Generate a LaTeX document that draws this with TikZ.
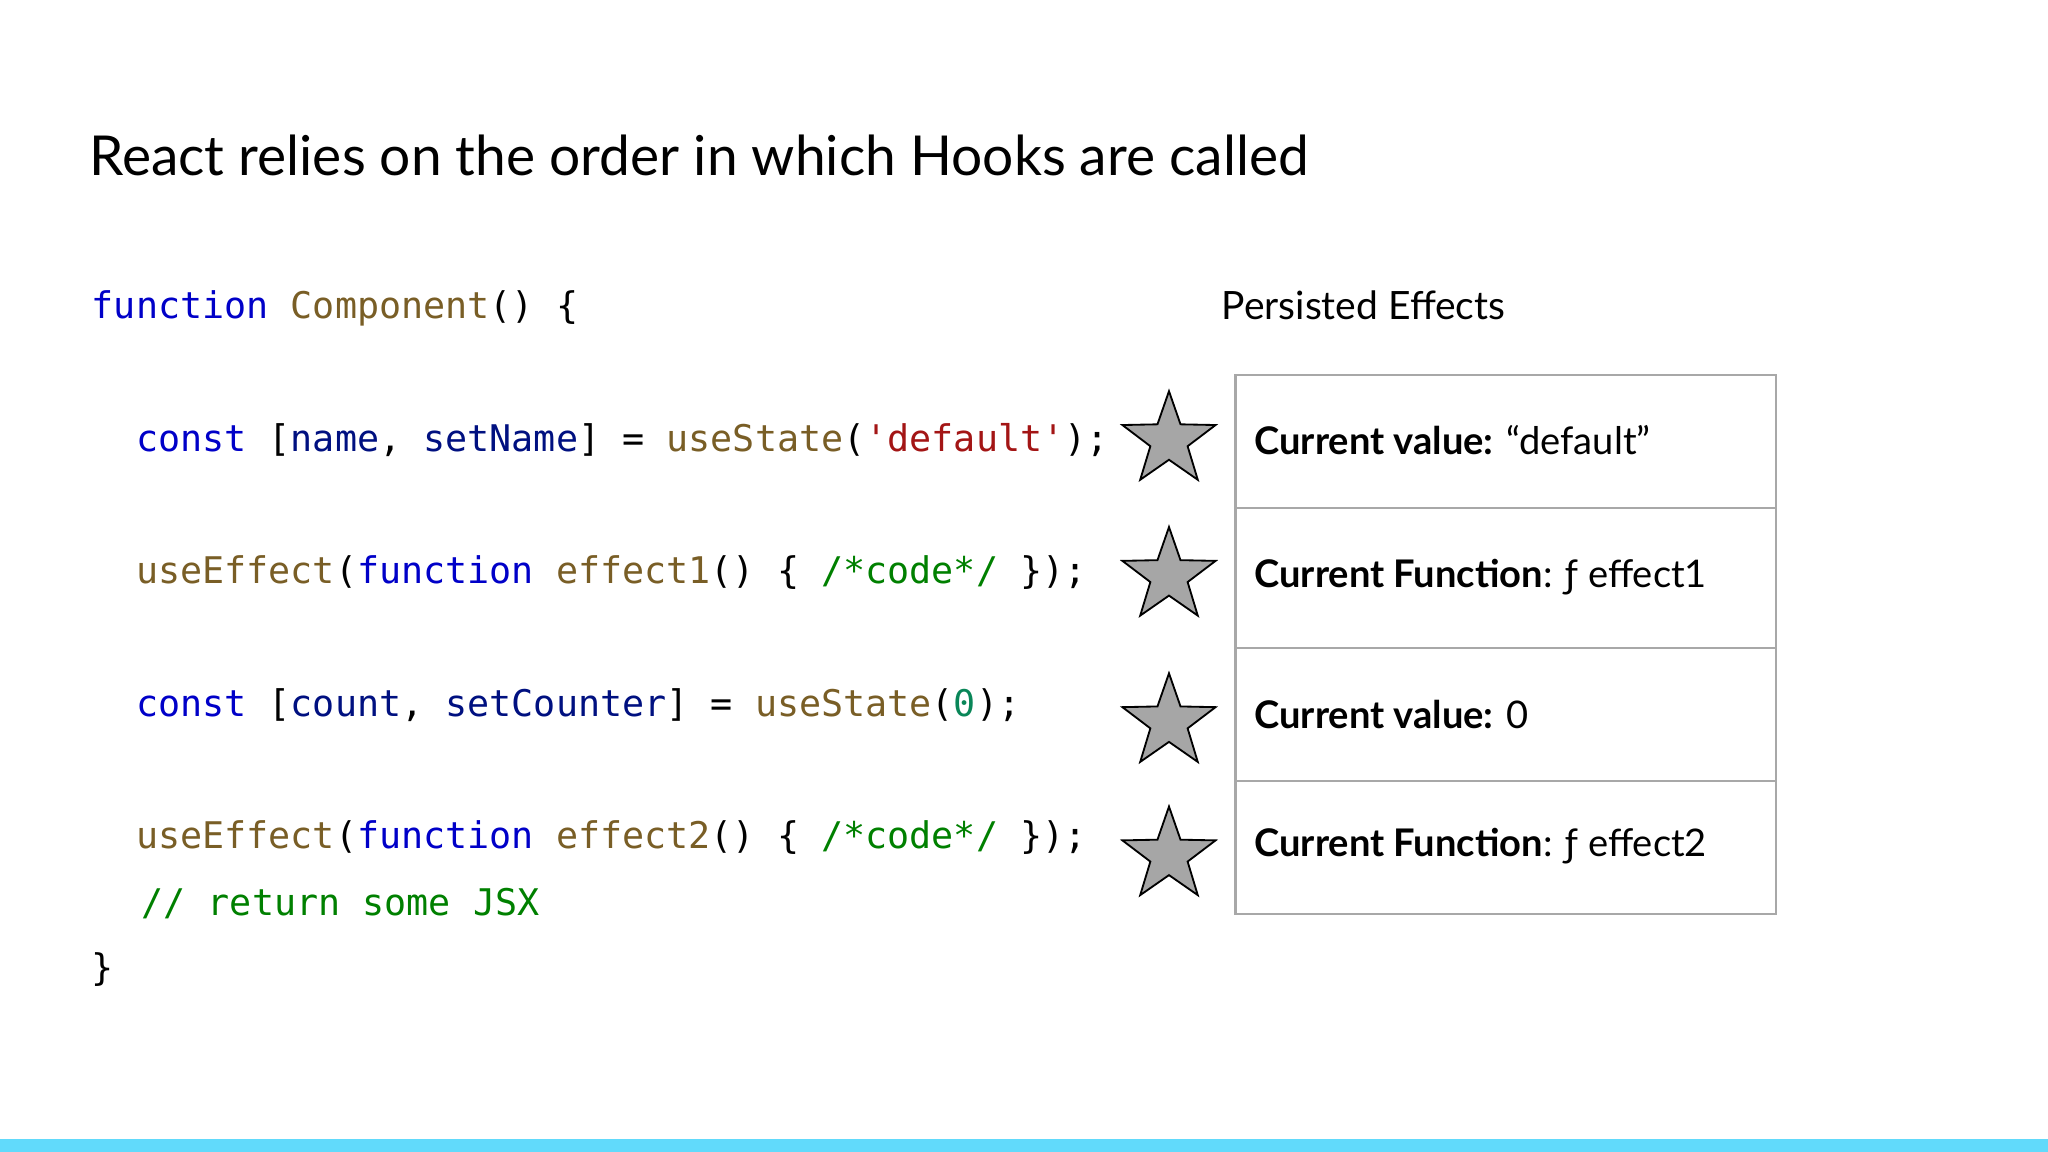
\documentclass[tikz,border=0pt]{standalone}
\usepackage{fontspec}
\setmainfont{Lato}
\setmonofont{DejaVu Sans Mono}
\usetikzlibrary{shapes.geometric}
\definecolor{kw}{HTML}{0000C8}
\definecolor{fn}{HTML}{795E26}
\definecolor{vr}{HTML}{001080}
\definecolor{st}{HTML}{A31515}
\definecolor{cm}{HTML}{008000}
\definecolor{nm}{HTML}{098658}
\definecolor{bar}{HTML}{61DAFB}
\definecolor{bx}{HTML}{A8A8A8}
\newcommand{\K}[1]{\textcolor{kw}{#1}}
\newcommand{\F}[1]{\textcolor{fn}{#1}}
\newcommand{\V}[1]{\textcolor{vr}{#1}}
\newcommand{\Ss}[1]{\textcolor{st}{#1}}
\newcommand{\Cm}[1]{\textcolor{cm}{#1}}
\newcommand{\N}[1]{\textcolor{nm}{#1}}
\begin{document}
\begin{tikzpicture}[x=0.02cm,y=-0.02cm,
  code/.style={anchor=west,inner sep=0,font=\fontsize{16}{18}\selectfont\ttfamily},
  starshape/.style={star,star points=5,star point ratio=2.5,minimum size=1.5cm,draw=black,fill=black!35,inner sep=0,line width=0.8pt},
  cell/.style={draw=bx,line width=1pt},
  celltext/.style={anchor=west,inner sep=0,font=\fontsize{16.6}{20}\selectfont}]
\useasboundingbox (0,0) rectangle (1568,882);
\fill[bar] (0,872) rectangle (1568,882);
\node[anchor=west,inner sep=0,font=\fontsize{24}{30}\selectfont] (title) at (68,119) {React relies on the order in which Hooks are called};
\node[code] (l1) at (70,236) {\K{function} \F{Component}() \{};
\node[code] (l2) at (70,337) {\phantom{xx}\K{const} [\V{name}, \V{setName}] = \F{useState}(\Ss{'default'});};
\node[code] (l3) at (70,438) {\phantom{xx}\F{useEffect}(\K{function} \F{effect1}() \{ \Cm{/*code*/} \});};
\node[code] (l4) at (70,540) {\phantom{xx}\K{const} [\V{count}, \V{setCounter}] = \F{useState}(\N{0});};
\node[code] (l5) at (70,641) {\phantom{xx}\F{useEffect}(\K{function} \F{effect2}() \{ \Cm{/*code*/} \});};
\node[code] (l6) at (108,692) {\Cm{// return some JSX}};
\node[code] (l7) at (70,742) {\}};
\node[anchor=west,inner sep=0,font=\fontsize{17}{20}\selectfont] (pe) at (935,234) {Persisted Effects};
\foreach \i/\y in {1/337,2/441,3/553,4/655}{\node[starshape] (s\i) at (895,\y) {};}
\draw[cell] (946,287) rectangle (1360,700);
\foreach \y in {389,496,598}{\draw[cell] (946,\y) -- (1360,\y);}
\node[celltext] (c1) at (960,337) {\textbf{Current value:} “default”};
\node[celltext] (c2) at (960,442) {\textbf{Current Function}: ƒ effect1};
\node[celltext] (c3) at (960,547) {\textbf{Current value:} 0};
\node[celltext] (c4) at (960,648) {\textbf{Current Function}: ƒ effect2};
\end{tikzpicture}
\end{document}
